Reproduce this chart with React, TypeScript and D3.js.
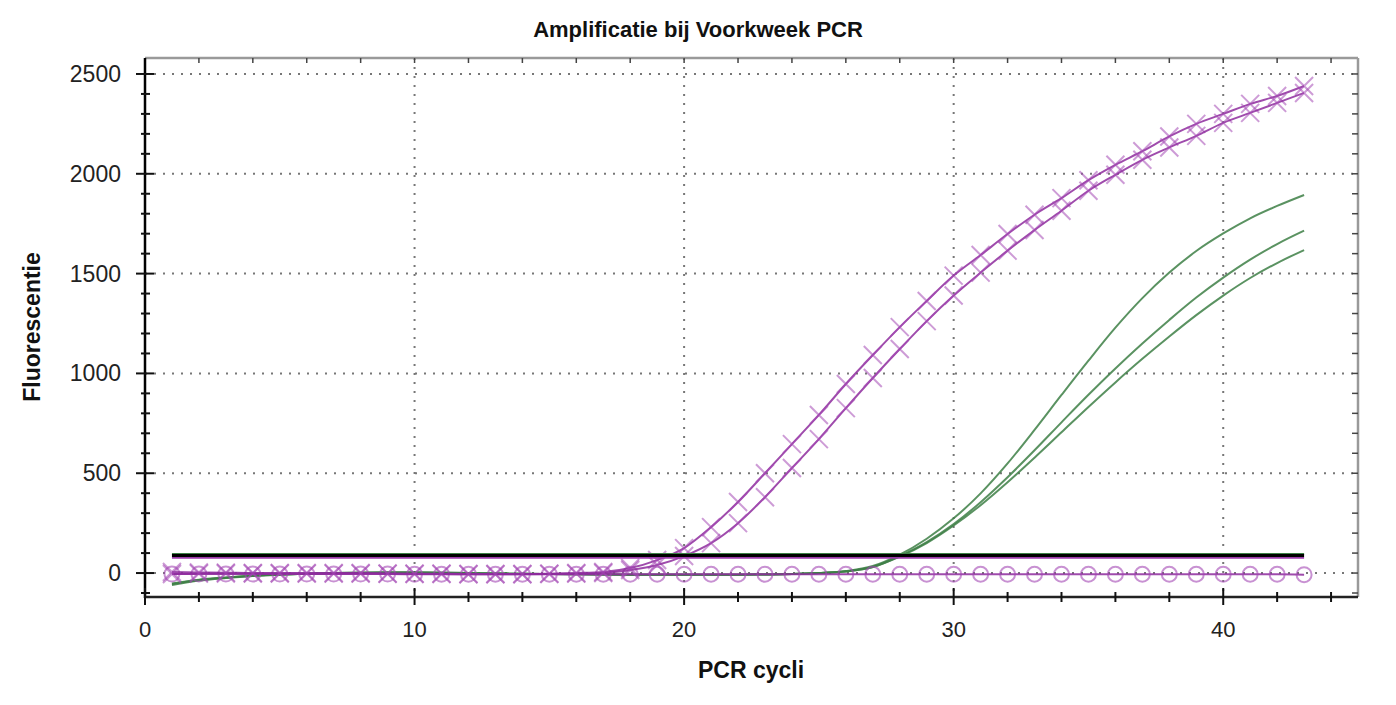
import * as d3 from 'd3';

const cycles = d3.range(1, 44);

// purple "x" series (two replicates)
const purpleA = [5, 3, 2, 0, 0, 0, 0, 0, -2, -3, -3, -5, -5, -5, -3, 0, 5, 25, 65, 125, 230, 356, 500, 646, 792, 947, 1092, 1232, 1363, 1490, 1593, 1698, 1795, 1878, 1968, 2045, 2113, 2187, 2250, 2300, 2350, 2390, 2440];
const purpleB = [-5, -3, -2, -2, -2, -3, -3, -3, -4, -5, -5, -6, -6, -6, -5, -3, 0, 15, 40, 85, 150, 250, 380, 526, 671, 826, 977, 1122, 1262, 1390, 1505, 1615, 1718, 1815, 1915, 1995, 2070, 2132, 2190, 2255, 2305, 2355, 2405];
// purple "o" series (negative)
const purpleO = [-5, -5, -5, -5, -5, -5, -5, -5, -5, -6, -6, -6, -6, -6, -6, -6, -6, -6, -6, -6, -6, -6, -6, -6, -6, -6, -6, -6, -6, -6, -6, -6, -6, -6, -6, -6, -6, -6, -6, -6, -6, -6, -8];
// green series (three replicates)
const green1 = [-60, -38, -25, -15, -8, -4, 0, 2, 3, 3, 2, 0, -2, -4, -5, -6, -7, -8, -8, -8, -8, -8, -7, -5, 0, 10, 35, 92, 172, 274, 399, 549, 717, 892, 1064, 1229, 1377, 1505, 1613, 1701, 1777, 1839, 1894];
const green2 = [-55, -35, -23, -14, -8, -4, 0, 2, 3, 3, 2, 0, -2, -4, -5, -6, -7, -8, -8, -8, -8, -8, -7, -5, 0, 8, 30, 85, 155, 245, 355, 480, 615, 755, 893, 1025, 1150, 1268, 1380, 1480, 1570, 1648, 1715];
const green3 = [-52, -33, -22, -13, -7, -3, 0, 2, 3, 3, 2, 0, -2, -4, -5, -6, -7, -8, -8, -8, -8, -8, -7, -5, 0, 8, 30, 82, 150, 238, 340, 455, 578, 705, 832, 955, 1073, 1185, 1292, 1390, 1478, 1553, 1618];
// thresholds per channel
const thresholds = [
  { value: 95, color: '#3d7f45', width: 2 },
  { value: 76, color: '#9a3aa8', width: 2 },
  { value: 88, color: '#000000', width: 3 },
];

const xTicks = [0, 10, 20, 30, 40];
const yTicks = [0, 500, 1000, 1500, 2000, 2500];

const W = 1396;
const H = 705;
const left = 145, right = 1358, top = 58, bottom = 597;

const PURPLE_LINE = '#8e2c9e';
const PURPLE_MARK = '#a448b4';
const GREEN = '#3d7f45';
const FONT = 'Liberation Sans, Arial, sans-serif';

export default function App() {
  const x = d3.scaleLinear().domain([0, 45]).range([left, right]);
  const y = d3.scaleLinear().domain([-120, 2580]).range([bottom, top]);

  const line = (vals: number[]) =>
    d3.line<number>()
      .x((_, i) => x(cycles[i]))
      .y(d => y(d))
      .curve(d3.curveMonotoneX)(vals) ?? '';

  const xMinor = d3.range(0, 46, 2);
  const yMinor = d3.range(-100, 2580, 100);
  const s = 9;
  const xMark = (cx: number, cy: number) =>
    `M${cx - s},${cy - s}L${cx + s},${cy + s}M${cx - s},${cy + s}L${cx + s},${cy - s}`;

  return (
    <svg width={W} height={H} style={{ position: 'absolute', left: 0, top: 0, background: '#fff' }}
      fontFamily={FONT}>
      {/* title */}
      <text x={698} y={37} textAnchor="middle" fontSize={22} fontWeight="bold" fill="#111">
        Amplificatie bij Voorkweek PCR
      </text>

      {/* grid */}
      {xTicks.filter(t => t > 0).map(t => (
        <line key={'gx' + t} x1={x(t)} x2={x(t)} y1={top} y2={bottom}
          stroke="#777" strokeWidth={2} strokeDasharray="2,7" />
      ))}
      {yTicks.map(t => (
        <line key={'gy' + t} x1={left} x2={right} y1={y(t)} y2={y(t)}
          stroke="#777" strokeWidth={2} strokeDasharray="2,7" />
      ))}

      {/* frame top/right */}
      <line x1={left} x2={right} y1={top} y2={top} stroke="#9a9a9a" strokeWidth={2.5} />
      <line x1={right} x2={right} y1={top} y2={bottom} stroke="#9a9a9a" strokeWidth={2.5} />
      {xMinor.map(t => (
        <line key={'tt' + t} x1={x(t)} x2={x(t)} y1={top} y2={top + 5} stroke="#444" strokeWidth={1.5} />
      ))}
      {yMinor.map(t => (
        <line key={'rt' + t} x1={right} x2={right - 6} y1={y(t)} y2={y(t)} stroke="#444" strokeWidth={1.5} />
      ))}

      {/* green curves */}
      {[green1, green2, green3].map((g, i) => (
        <path key={'g' + i} d={line(g)} fill="none" stroke={GREEN} strokeWidth={2} strokeOpacity={0.85} />
      ))}

      {/* purple o series */}
      <path d={line(purpleO)} fill="none" stroke={PURPLE_LINE} strokeWidth={2} strokeOpacity={0.85} />
      {purpleO.map((v, i) => (
        <circle key={'o' + i} cx={x(cycles[i])} cy={y(v)} r={7.5} fill="none"
          stroke={PURPLE_MARK} strokeWidth={2} strokeOpacity={0.6} />
      ))}

      {/* purple x series */}
      {[purpleA, purpleB].map((p, k) => (
        <g key={'p' + k}>
          <path d={line(p)} fill="none" stroke={PURPLE_LINE} strokeWidth={2} strokeOpacity={0.85} />
          {p.map((v, i) => (
            <path key={i} d={xMark(x(cycles[i]), y(v))} fill="none"
              stroke={PURPLE_MARK} strokeWidth={2} strokeOpacity={0.55} />
          ))}
        </g>
      ))}

      {/* threshold lines */}
      {thresholds.map((t, i) => (
        <line key={'th' + i} x1={x(1)} x2={x(43)} y1={y(t.value)} y2={y(t.value)}
          stroke={t.color} strokeWidth={t.width} />
      ))}

      {/* left axis */}
      <line x1={left} x2={left} y1={top} y2={bottom + 1} stroke="#000" strokeWidth={2.5} />
      {yMinor.map(t => (
        <line key={'ly' + t} x1={left - (t % 500 === 0 ? 9 : 4)} x2={left + (t % 500 === 0 ? 9 : 5)}
          y1={y(t)} y2={y(t)} stroke="#111" strokeWidth={2} />
      ))}
      {yTicks.map(t => (
        <text key={'yl' + t} x={121} y={y(t) + 8} textAnchor="end" fontSize={23} fill="#222">{t}</text>
      ))}

      {/* bottom axis */}
      <line x1={left} x2={right} y1={bottom} y2={bottom} stroke="#222" strokeWidth={2.5} />
      {xMinor.map(t => (
        <line key={'bx' + t} x1={x(t)} x2={x(t)}
          y1={bottom - (t % 10 === 0 ? 9 : 5)} y2={bottom + (t % 10 === 0 ? 8 : 5)}
          stroke="#111" strokeWidth={2} />
      ))}
      {xTicks.map(t => (
        <text key={'xl' + t} x={x(t)} y={637} textAnchor="middle" fontSize={22} fill="#222">{t}</text>
      ))}

      {/* axis titles */}
      <text x={751} y={678} textAnchor="middle" fontSize={23} fontWeight="bold" fill="#111">PCR cycli</text>
      <text transform="translate(40,327) rotate(-90)" textAnchor="middle" fontSize={23} fontWeight="bold" fill="#111">
        Fluorescentie
      </text>
    </svg>
  );
}
